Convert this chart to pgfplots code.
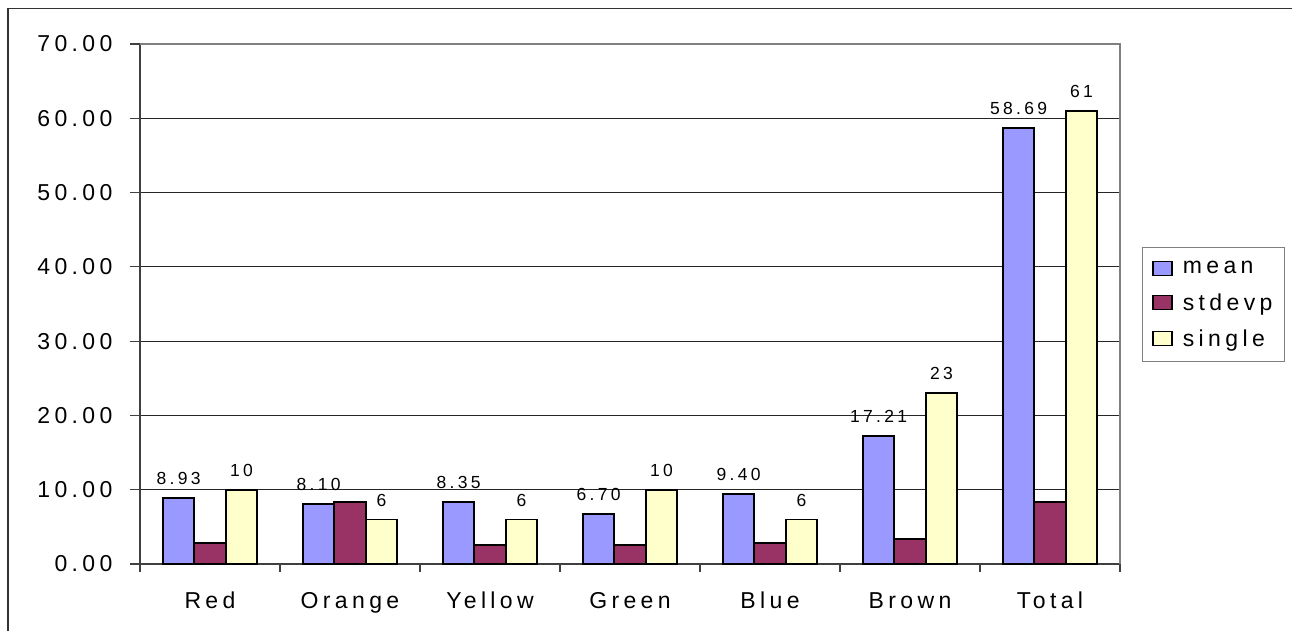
\documentclass[border=0pt]{standalone}
\usepackage{pgfplots}
\pgfplotsset{compat=1.18}
\usepackage{fontspec}
\setmainfont{Liberation Sans}[LetterSpace=19]
\definecolor{cmean}{HTML}{9999FF}
\definecolor{cstd}{HTML}{993366}
\definecolor{csingle}{HTML}{FFFFCC}
\begin{document}
\begin{tikzpicture}
\useasboundingbox (-140pt,-66pt) rectangle (1152pt,564pt);
\draw[line width=1.5pt, black!80] (-132pt,-70pt) -- (-132pt,555.5pt) -- (1160pt,555.5pt);
\begin{axis}[
  at={(0pt,0pt)}, anchor=south west,
  width=980pt, height=520pt, scale only axis,
  xmin=-0.5, xmax=6.5, ymin=0, ymax=70,
  clip=false,
  axis x line*=bottom, axis y line*=left,
  axis line style={draw=black!75, line width=1.2pt},
  ytick={0,10,...,70},
  yticklabel style={/pgf/number format/fixed,/pgf/number format/fixed zerofill,/pgf/number format/precision=2,/pgf/number format/assume math mode=true, xshift=-14pt},
  xtick={0,...,6},
  xticklabels={Red,Orange,Yellow,Green,Blue,Brown,Total},
  xticklabel style={text height=17pt, text depth=5pt, yshift=-13.5pt},
  minor xtick={-0.5,0.5,...,6.5},
  tick align=outside, major tick length=10pt, minor tick length=8pt,
  major x tick style={draw=none},
  tick style={draw=black!75, line width=1.2pt},
  tick label style={font=\fontsize{23}{26}\selectfont},
  ymajorgrids, major grid style={black!85, line width=0.9pt},
  ybar=0pt, bar width=31.4pt,
  legend image code/.code={\draw[#1, draw=black, line width=1.6pt] (0pt,-7pt) rectangle (19pt,7pt); \path (27pt,0pt);},
  legend style={at={(1.0221,0.6096)}, anchor=north west, draw=black!50, line width=1pt,
    font=\fontsize{23}{26}\selectfont, row sep=14pt, inner xsep=10pt, inner ysep=12pt},
  legend cell align=left,
  nodes near coords style={font=\fontsize{17.5}{20}\selectfont, black, yshift=9pt,
    /pgf/number format/assume math mode=true},
]
\addplot[fill=cmean, draw=black, line width=1.8pt, nodes near coords,
  nodes near coords style={/pgf/number format/fixed, /pgf/number format/fixed zerofill, /pgf/number format/precision=2}]
  coordinates {(0,8.93) (1,8.10) (2,8.35) (3,6.70) (4,9.40) (5,17.21) (6,58.69)};
\addlegendentry{mean}
\addplot[fill=cstd, draw=black, line width=1.8pt]
  coordinates {(0,2.78) (1,8.39) (2,2.56) (3,2.56) (4,2.78) (5,3.32) (6,8.34)};
\addlegendentry{stdevp}
\addplot[fill=csingle, draw=black, line width=1.8pt, nodes near coords]
  coordinates {(0,10) (1,6) (2,6) (3,10) (4,6) (5,23) (6,61)};
\addlegendentry{single}
\draw[black!50, line width=1.2pt] (rel axis cs:0,1) -- (rel axis cs:1,1) -- (rel axis cs:1,0);
\end{axis}
\end{tikzpicture}
\end{document}
